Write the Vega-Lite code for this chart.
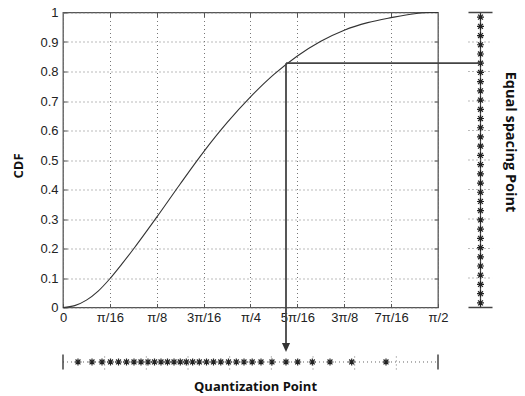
{
  "$schema": "https://vega.github.io/schema/vega-lite/v6.json",
  "width": 375,
  "height": 295,
  "autosize": {"type": "none"},
  "padding": {"left": 63, "top": 12.5, "right": 87, "bottom": 88.5},
  "background": "white",
  "config": {"view": {"stroke": "#555", "strokeWidth": 1.3}},
  "datasets": {
    "curve": [
      {"theta": 0, "cdf": 0},
      {"theta": 0.0491, "cdf": 0.0063},
      {"theta": 0.0982, "cdf": 0.025},
      {"theta": 0.1473, "cdf": 0.0556},
      {"theta": 0.1963, "cdf": 0.0975},
      {"theta": 0.2454, "cdf": 0.1463},
      {"theta": 0.2945, "cdf": 0.1975},
      {"theta": 0.3927, "cdf": 0.3063},
      {"theta": 0.4909, "cdf": 0.4188},
      {"theta": 0.589, "cdf": 0.5276},
      {"theta": 0.6872, "cdf": 0.6264},
      {"theta": 0.7854, "cdf": 0.7139},
      {"theta": 0.8836, "cdf": 0.7902},
      {"theta": 0.9817, "cdf": 0.8527},
      {"theta": 1.0799, "cdf": 0.9027},
      {"theta": 1.1781, "cdf": 0.9402},
      {"theta": 1.2763, "cdf": 0.9657},
      {"theta": 1.3744, "cdf": 0.9825},
      {"theta": 1.4726, "cdf": 0.996},
      {"theta": 1.5315, "cdf": 1.0},
      {"theta": 1.5708, "cdf": 1.0}
    ],
    "points": [
      {"k": 1, "level": 0.015625, "theta": 0.0628},
      {"k": 2, "level": 0.046875, "theta": 0.1215},
      {"k": 3, "level": 0.078125, "theta": 0.1634},
      {"k": 4, "level": 0.109375, "theta": 0.199},
      {"k": 5, "level": 0.140625, "theta": 0.2325},
      {"k": 6, "level": 0.171875, "theta": 0.266},
      {"k": 7, "level": 0.203125, "theta": 0.2974},
      {"k": 8, "level": 0.234375, "theta": 0.3267},
      {"k": 9, "level": 0.265625, "theta": 0.356},
      {"k": 10, "level": 0.296875, "theta": 0.3833},
      {"k": 11, "level": 0.328125, "theta": 0.4105},
      {"k": 12, "level": 0.359375, "theta": 0.4377},
      {"k": 13, "level": 0.390625, "theta": 0.465},
      {"k": 14, "level": 0.421875, "theta": 0.4913},
      {"k": 15, "level": 0.453125, "theta": 0.5165},
      {"k": 16, "level": 0.484375, "theta": 0.5429},
      {"k": 17, "level": 0.515625, "theta": 0.5709},
      {"k": 18, "level": 0.546875, "theta": 0.6011},
      {"k": 19, "level": 0.578125, "theta": 0.6304},
      {"k": 20, "level": 0.609375, "theta": 0.661},
      {"k": 21, "level": 0.640625, "theta": 0.6932},
      {"k": 22, "level": 0.671875, "theta": 0.7259},
      {"k": 23, "level": 0.703125, "theta": 0.7582},
      {"k": 24, "level": 0.734375, "theta": 0.7925},
      {"k": 25, "level": 0.765625, "theta": 0.8294},
      {"k": 26, "level": 0.796875, "theta": 0.8754},
      {"k": 27, "level": 0.828125, "theta": 0.9341},
      {"k": 28, "level": 0.859375, "theta": 0.9831},
      {"k": 29, "level": 0.890625, "theta": 1.0443},
      {"k": 30, "level": 0.921875, "theta": 1.1184},
      {"k": 31, "level": 0.953125, "theta": 1.2093},
      {"k": 32, "level": 0.984375, "theta": 1.353}
    ]
  },
  "resolve": {"axis": {"x": "independent", "y": "independent"}},
  "layer": [
    {
      "data": {"name": "curve"},
      "mark": {"type": "line", "color": "#333", "strokeWidth": 1.1, "interpolate": "monotone"},
      "encoding": {
        "x": {
          "field": "theta", "type": "quantitative",
          "scale": {"domain": [0, 1.5707963], "nice": false, "zero": false},
          "axis": {
            "orient": "bottom",
            "values": [0, 0.19635, 0.392699, 0.589049, 0.785398, 0.981748, 1.178097, 1.374447, 1.570796],
            "labelExpr": "['0','π/16','π/8','3π/16','π/4','5π/16','3π/8','7π/16','π/2'][round(datum.value*16/PI)]",
            "grid": true, "gridDash": [1, 3], "gridColor": "#777", "gridWidth": 1,
            "domain": false, "ticks": true, "tickSize": -4, "tickColor": "#555",
            "labelPadding": 8, "labelFont": "Liberation Sans", "labelFontSize": 13, "labelColor": "#222",
            "labelFlush": false, "labelOverlap": false,
            "title": "Quantization Point", "titleFont": "Open Sans", "titleFontWeight": "bold",
            "titleFontSize": 13, "titleColor": "#111", "titlePadding": 56, "titleX": 192
          }
        },
        "y": {
          "field": "cdf", "type": "quantitative",
          "scale": {"domain": [0, 1], "nice": false},
          "axis": {
            "orient": "left",
            "values": [0, 0.1, 0.2, 0.3, 0.4, 0.5, 0.6, 0.7, 0.8, 0.9, 1],
            "labelExpr": "format(datum.value, '.1~f')",
            "grid": true, "gridDash": [1, 3], "gridColor": "#777", "gridWidth": 1,
            "domain": false, "ticks": true, "tickSize": -4, "tickColor": "#555",
            "labelPadding": 9, "labelFont": "Liberation Sans", "labelFontSize": 13, "labelColor": "#222",
            "labelFlush": false, "labelOverlap": false,
            "title": "CDF", "titleFont": "Open Sans", "titleFontWeight": "bold",
            "titleFontSize": 13, "titleColor": "#111", "titlePadding": 14, "titleY": 153
          }
        }
      }
    },
    {
      "data": {"values": [{}]},
      "mark": {"type": "rule", "color": "#444", "strokeWidth": 1.2},
      "encoding": {
        "x": {
          "datum": 1.7488, "type": "quantitative",
          "scale": {"domain": [0, 1.5707963], "nice": false, "zero": false},
          "axis": {
            "orient": "top", "values": [0.19635, 0.392699, 0.589049, 0.785398, 0.981748, 1.178097, 1.374447],
            "labels": false, "grid": false, "domain": false, "ticks": true, "tickSize": -4, "tickColor": "#555", "title": null
          }
        },
        "y": {
          "datum": 0, "type": "quantitative",
          "scale": {"domain": [0, 1], "nice": false},
          "axis": {
            "orient": "right", "values": [0.1, 0.2, 0.3, 0.4, 0.5, 0.6, 0.7, 0.8, 0.9],
            "labels": false, "grid": false, "domain": false, "ticks": true, "tickSize": -4, "tickColor": "#555",
            "title": "Equal spacing Point", "titleAngle": 90, "titleFont": "Open Sans", "titleFontWeight": "bold",
            "titleFontSize": 14.5, "titleColor": "#111", "titlePadding": 64, "titleY": 129
          }
        },
        "y2": {"datum": 1}
      }
    },
    {
      "data": {"values": [{"level": 0}, {"level": 1}]},
      "mark": {"type": "rule", "color": "#444", "strokeWidth": 1.5},
      "encoding": {
        "y": {"field": "level", "type": "quantitative", "scale": {"domain": [0, 1], "nice": false}, "axis": null},
        "x": {"datum": 1.6985, "type": "quantitative", "scale": {"domain": [0, 1.5707963], "nice": false, "zero": false}, "axis": null},
        "x2": {"datum": 1.7991}
      }
    },
    {
      "data": {"values": [{"level": 0.1}, {"level": 0.2}, {"level": 0.3}, {"level": 0.4}, {"level": 0.5}, {"level": 0.6}, {"level": 0.7}, {"level": 0.8}, {"level": 0.9}]},
      "mark": {"type": "rule", "color": "#777", "strokeWidth": 1, "strokeDash": [1, 3]},
      "encoding": {
        "y": {"field": "level", "type": "quantitative", "scale": {"domain": [0, 1], "nice": false}, "axis": null},
        "x": {"datum": 1.6985, "type": "quantitative", "scale": {"domain": [0, 1.5707963], "nice": false, "zero": false}, "axis": null},
        "x2": {"datum": 1.7991}
      }
    },
    {
      "data": {"name": "points"},
      "mark": {"type": "point", "shape": "M-1,0L1,0M0,-1L0,1M-0.7,-0.7L0.7,0.7M-0.7,0.7L0.7,-0.7", "size": 49, "filled": false, "stroke": "#222", "strokeWidth": 1.2, "opacity": 1},
      "encoding": {
        "y": {"field": "level", "type": "quantitative", "scale": {"domain": [0, 1], "nice": false}, "axis": null},
        "x": {"datum": 1.7488, "type": "quantitative", "scale": {"domain": [0, 1.5707963], "nice": false, "zero": false}, "axis": null}
      }
    },
    {
      "data": {"values": [{}]},
      "mark": {"type": "rule", "color": "#666", "strokeWidth": 1, "strokeDash": [1, 3]},
      "encoding": {
        "x": {"datum": 0, "type": "quantitative", "scale": {"domain": [0, 1.5707963], "nice": false, "zero": false}, "axis": null},
        "x2": {"datum": 1.5708},
        "y": {"datum": -0.1847, "type": "quantitative", "scale": {"domain": [0, 1], "nice": false}, "axis": null}
      }
    },
    {
      "data": {"values": [{"theta": 0}, {"theta": 1.5708}]},
      "mark": {"type": "rule", "color": "#444", "strokeWidth": 1.5},
      "encoding": {
        "x": {"field": "theta", "type": "quantitative", "scale": {"domain": [0, 1.5707963], "nice": false, "zero": false}, "axis": null},
        "y": {"datum": -0.2101, "type": "quantitative", "scale": {"domain": [0, 1], "nice": false}, "axis": null},
        "y2": {"datum": -0.1593}
      }
    },
    {
      "data": {"values": [{"theta": 0.174533}, {"theta": 0.349066}, {"theta": 0.523599}, {"theta": 0.698132}, {"theta": 0.872665}, {"theta": 1.047198}, {"theta": 1.22173}, {"theta": 1.396263}]},
      "mark": {"type": "rule", "color": "#777", "strokeWidth": 1, "strokeDash": [1, 3]},
      "encoding": {
        "x": {"field": "theta", "type": "quantitative", "scale": {"domain": [0, 1.5707963], "nice": false, "zero": false}, "axis": null},
        "y": {"datum": -0.2101, "type": "quantitative", "scale": {"domain": [0, 1], "nice": false}, "axis": null},
        "y2": {"datum": -0.1593}
      }
    },
    {
      "data": {"name": "points"},
      "mark": {"type": "point", "shape": "M-1,0L1,0M0,-1L0,1M-0.7,-0.7L0.7,0.7M-0.7,0.7L0.7,-0.7", "size": 49, "filled": false, "stroke": "#222", "strokeWidth": 1.2, "opacity": 1},
      "encoding": {
        "x": {"field": "theta", "type": "quantitative", "scale": {"domain": [0, 1.5707963], "nice": false, "zero": false}, "axis": null},
        "y": {"datum": -0.1847, "type": "quantitative", "scale": {"domain": [0, 1], "nice": false}, "axis": null}
      }
    },
    {
      "data": {"name": "points"},
      "transform": [{"filter": "datum.k == 27"}],
      "mark": {"type": "rule", "color": "#444", "strokeWidth": 1.8},
      "encoding": {
        "x": {"field": "theta", "type": "quantitative", "scale": {"domain": [0, 1.5707963], "nice": false, "zero": false}, "axis": null},
        "x2": {"datum": 1.7488},
        "y": {"field": "level", "type": "quantitative", "scale": {"domain": [0, 1], "nice": false}, "axis": null}
      }
    },
    {
      "data": {"name": "points"},
      "transform": [{"filter": "datum.k == 27"}],
      "mark": {"type": "rule", "color": "#444", "strokeWidth": 1.8},
      "encoding": {
        "x": {"field": "theta", "type": "quantitative", "scale": {"domain": [0, 1.5707963], "nice": false, "zero": false}, "axis": null},
        "y": {"field": "level", "type": "quantitative", "scale": {"domain": [0, 1], "nice": false}, "axis": null},
        "y2": {"datum": -0.14}
      }
    },
    {
      "data": {"name": "points"},
      "transform": [{"filter": "datum.k == 27"}],
      "mark": {"type": "point", "shape": "M-0.9,-1L0.9,-1L0,1Z", "size": 81, "filled": true, "color": "#333", "opacity": 1},
      "encoding": {
        "x": {"field": "theta", "type": "quantitative", "scale": {"domain": [0, 1.5707963], "nice": false, "zero": false}, "axis": null},
        "y": {"datum": -0.1356, "type": "quantitative", "scale": {"domain": [0, 1], "nice": false}, "axis": null}
      }
    }
  ]
}
